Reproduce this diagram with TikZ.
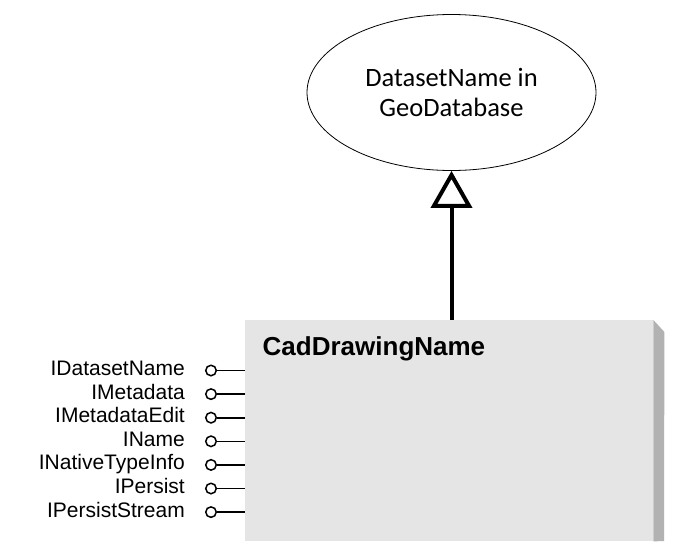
\documentclass[tikz,border=0pt]{standalone}
\usepackage{fontspec}
\setmainfont{Liberation Sans}
\newfontfamily\carlito{Carlito}
\usetikzlibrary{shapes.geometric,arrows.meta}
\begin{document}
\begin{tikzpicture}[x=1pt,y=-1pt]
    \tikzstyle{superclass} = [draw,ellipse,line width=0.8pt,fill=white,minimum width=289pt,minimum height=156pt,align=center,font=\carlito\fontsize{26.5}{30.5}\selectfont]
    \tikzstyle{cocls} = [rectangle,fill=black!10,minimum width=408pt,minimum height=221pt,inner sep=0pt]
    \tikzstyle{shade} = [fill=black!30]
    \tikzstyle{iface} = [draw,circle,line width=1.5pt,fill=white,minimum size=10.5pt,inner sep=0pt]
    \tikzstyle{ifname} = [anchor=base east,inner sep=0pt,font=\fontsize{21}{24}\selectfont]
    \tikzstyle{inherit} = [-{Triangle[open,length=37pt,width=41pt]},line width=4pt]
    \useasboundingbox (0,0) rectangle (677,541);
    \node [superclass] (gdb) at (451.5,92.5) {DatasetName in\\GeoDatabase};
    \node [cocls,anchor=north west] (cad) at (245,320) {};
    \fill [shade] (cad.north east) -- ++(11,12) -- (664,541) -- (cad.south east) -- cycle;
    \node [anchor=base west,inner sep=0pt,font=\bfseries\fontsize{26}{30}\selectfont] (cadname) at (262.5,355) {CadDrawingName};

    \foreach \name [count=\i] in {IDatasetName,IMetadata,IMetadataEdit,IName,INativeTypeInfo,IPersist,IPersistStream} {
        \node [iface] (o\i) at (211,346.9+23.6*\i) {};
        \node [ifname] (n\i) at (185,351.9+23.6*\i) {\name};
        \draw [line width=1.6pt] (o\i) -- (o\i -| cad.west);
    }
    \draw [inherit] (cad.north -| gdb.south) -- (gdb.south);
\end{tikzpicture}
\end{document}
